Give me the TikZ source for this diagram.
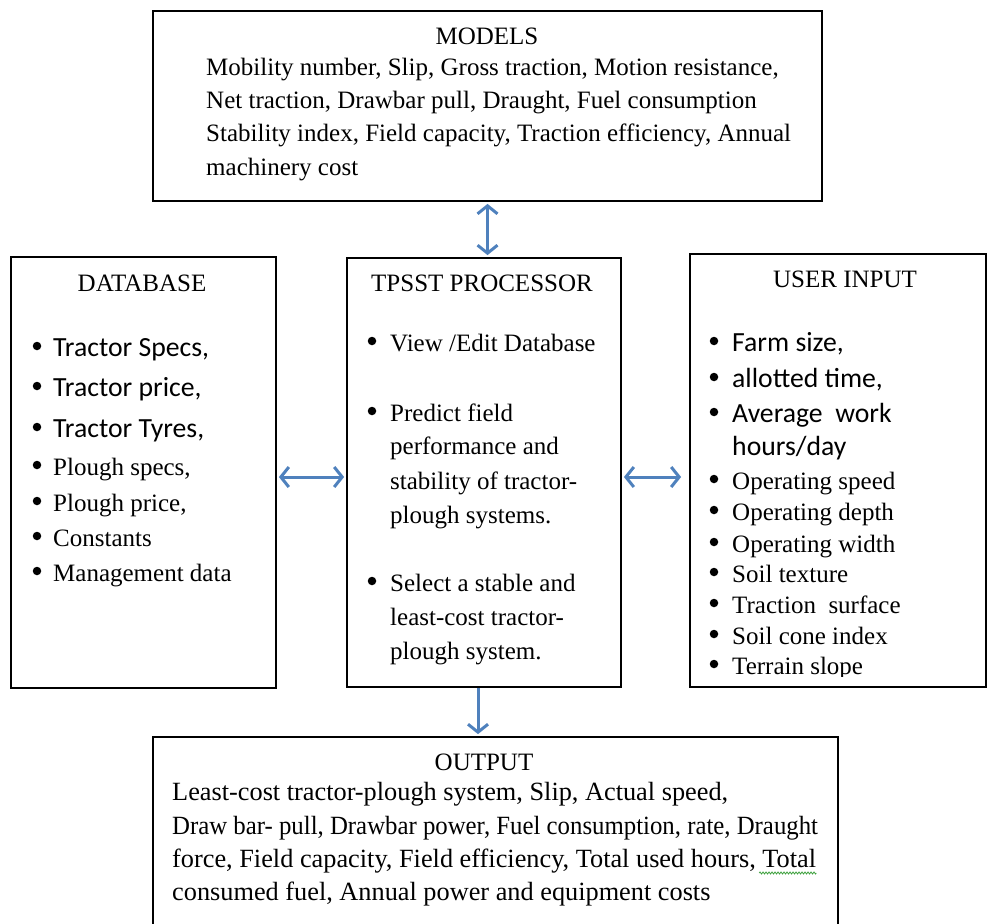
\documentclass[tikz,border=0pt]{standalone}
\usepackage{fontspec}
\setmainfont{Liberation Serif}
\newfontfamily\calfont{Carlito}
\usetikzlibrary{arrows.meta,decorations.pathmorphing}
\definecolor{arrowblue}{HTML}{4F81BD}
\definecolor{spellgreen}{HTML}{3CA03C}
\tikzset{
  box/.style={draw, line width=1.8pt, inner sep=0pt},
  tl/.style={anchor=base west, inner sep=0pt, font=\fontsize{25}{30}\selectfont},
  tlo/.style={anchor=base west, inner sep=0pt, font=\fontsize{26.3}{30}\selectfont},
  tlc/.style={anchor=base west, inner sep=0pt, font=\fontsize{27.7}{30}\calfont},
  ttl/.style={anchor=base, inner sep=0pt, font=\fontsize{25}{30}\selectfont},
  bul/.style={circle, fill, inner sep=0pt, minimum size=8.5pt, yshift=10pt},
  arr/.style={draw=arrowblue, line width=3pt,
    {Straight Barb[length=8pt,width=20pt]}-{Straight Barb[length=8pt,width=20pt]}},
  arrone/.style={draw=arrowblue, line width=3pt, -{Straight Barb[length=8pt,width=20pt]}}
}
\begin{document}
\begin{tikzpicture}[x=1pt,y=-1pt]
\useasboundingbox (0,0) rectangle (987,923);
% boxes
\node[box, minimum width=669pt, minimum height=190pt] (models) at (487.5,106) {};
\node[box, minimum width=265pt, minimum height=431pt] (db) at (143.5,472.5) {};
\node[box, minimum width=274pt, minimum height=429pt] (tp) at (484,472.5) {};
\node[box, minimum width=296pt, minimum height=433pt] (ui) at (838,470.5) {};
\node[box, minimum width=685pt, minimum height=200pt] (out) at (495.5,837) {};
% MODELS text
\node[ttl] (mt) at (487,45) {MODELS};
\node[tl] (m1) at (206,76) {Mobility number, Slip, Gross traction, Motion resistance,};
\node[tl] (m2) at (206,109) {Net traction, Drawbar pull, Draught, Fuel consumption};
\node[tl] (m3) at (206,142) {Stability index, Field capacity, Traction efficiency, Annual};
\node[tl] (m4) at (206,175) {machinery cost};
% DATABASE
\node[ttl] (dt) at (142,291) {DATABASE};
\node[bul] (db1) at (37,356) {};  \node[tlc] (dx1) at (53,356) {Tractor Specs,};
\node[bul] (db2) at (37,396) {};  \node[tlc] (dx2) at (53,396) {Tractor price,};
\node[bul] (db3) at (37,437) {};  \node[tlc] (dx3) at (53,437) {Tractor Tyres,};
\node[bul] (db4) at (37,475) {};  \node[tl] (dx4) at (53,475) {Plough specs,};
\node[bul] (db5) at (37,511) {};  \node[tl] (dx5) at (53,511) {Plough price,};
\node[bul] (db6) at (37,546) {};  \node[tl] (dx6) at (53,546) {Constants};
\node[bul] (db7) at (37,581) {};  \node[tl] (dx7) at (53,581) {Management data};
% TPSST
\node[ttl] (tt) at (482,291) {TPSST PROCESSOR};
\node[bul] (tb1) at (372,351) {}; \node[tl] (tx1) at (390,351) {View /Edit Database};
\node[bul] (tb2) at (372,421) {}; \node[tl] (tx2) at (390,421) {Predict field};
\node[tl] (tx3) at (390,454) {performance and};
\node[tl] (tx4) at (390,489) {stability of tractor-};
\node[tl] (tx5) at (390,523) {plough systems.};
\node[bul] (tb3) at (372,591) {}; \node[tl] (tx6) at (390,591) {Select a stable and};
\node[tl] (tx7) at (390,625) {least-cost tractor-};
\node[tl] (tx8) at (390,659) {plough system.};
% USER INPUT
\node[ttl] (ut) at (845,287) {USER INPUT};
\node[bul] (ub1) at (714,351) {};  \node[tlc] (ux1) at (732,351) {Farm size,};
\node[bul] (ub2) at (714,387) {};  \node[tlc] (ux2) at (732,387) {allotted time,};
\node[bul] (ub3) at (714,422) {};  \node[tlc] (ux3) at (732,422) {Average\ \ work};
\node[tlc] (ux4) at (732,455) {hours/day};
\node[bul] (ub5) at (714,489) {};  \node[tl] (ux5) at (732,489) {Operating speed};
\node[bul] (ub6) at (714,520) {};  \node[tl] (ux6) at (732,520) {Operating depth};
\node[bul] (ub7) at (714,552) {};  \node[tl] (ux7) at (732,552) {Operating width};
\node[bul] (ub8) at (714,582) {};  \node[tl] (ux8) at (732,582) {Soil texture};
\node[bul] (ub9) at (714,613) {};  \node[tl] (ux9) at (732,613) {Traction\ \ surface};
\node[bul] (ub10) at (714,644) {}; \node[tl] (ux10) at (732,644) {Soil cone index};
\begin{scope}
\clip (700,650) rectangle (980,676);
\node[bul] (ub11) at (714,674) {}; \node[tl] (ux11) at (732,674) {Terrain slope};
\end{scope}
% OUTPUT
\node[ttl] (ot) at (484,770) {OUTPUT};
\node[tlo] (o1) at (172,800) {Least-cost tractor-plough system, Slip, Actual speed,};
\node[tlo, xscale=0.943, transform shape] (o2) at (172,834) {Draw bar- pull, Drawbar power, Fuel consumption, rate, Draught};
\node[tlo] (o3) at (172,867) {force, Field capacity, Field efficiency, Total used hours, Total};
\node[tlo] (o4) at (172,900) {consumed fuel, Annual power and equipment costs};
\coordinate (sqa) at ([xshift=-57pt,yshift=-6pt]o3.base east);
\coordinate (sqb) at ([yshift=-6pt]o3.base east);
\draw[spellgreen, line width=0.8pt, decorate, decoration={zigzag, segment length=3pt, amplitude=1pt}]
  (sqa) -- (sqb);
% connectors
\draw[arr, shorten <=2pt, shorten >=2pt] (models.south) -- (models.south |- tp.north);
\draw[arr, shorten <=2pt, shorten >=2pt] ([yshift=-4.5pt]db.east) -- ([yshift=-4.5pt]tp.west);
\draw[arr, shorten <=2pt, shorten >=8pt] ([yshift=-4.5pt]tp.east) -- ([yshift=-4.5pt]tp.east -| ui.west);
\draw[arrone, shorten >=2pt] ([xshift=-6pt]tp.south) -- ([xshift=-6pt]tp.south |- out.north);
\end{tikzpicture}
\end{document}
